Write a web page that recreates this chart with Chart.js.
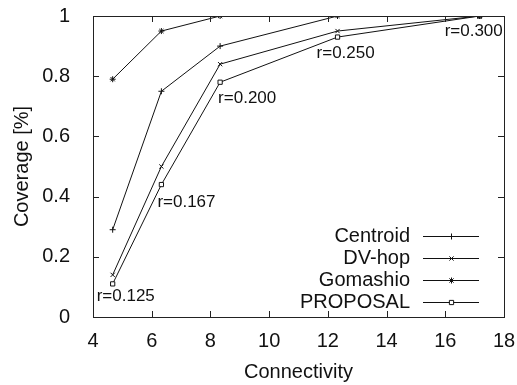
<!DOCTYPE html>
<html>
<head>
<meta charset="utf-8">
<script src="https://cdn.jsdelivr.net/npm/chart.js@4"></script>
<style>
  html, body { margin: 0; padding: 0; background: #fff; }
  #wrap { width: 517px; height: 385px; }
</style>
</head>
<body>
<div id="wrap"><canvas id="coverage"></canvas></div>
<script>
// connectivity for each radio range
const connectivity = [4.67, 6.33, 8.33, 12.33, 17.17];
const rangeLabels = ['r=0.125', 'r=0.167', 'r=0.200', 'r=0.250', 'r=0.300'];

const centroid = [0.29, 0.75, 0.90, 1.00, 1.00];
const dvHop    = [0.14, 0.50, 0.84, 0.95, 1.00];
const gomashio = [0.79, 0.95, 1.00, 1.00, 1.00];
const proposal = [0.11, 0.44, 0.78, 0.93, 1.00];

const xTicks = [4, 6, 8, 10, 12, 14, 16, 18];
const yTicks = [0, 0.2, 0.4, 0.6, 0.8, 1];

const FONT = 'Liberation Sans, Arial, sans-serif';
const INK = '#111';

// where each r= label sits relative to its PROPOSAL point (px)
const labelOffsets = [[-16, 12], [-4, 18], [-2, 16], [-21, 16], [-35, 15]];

const toPoints = ys => ys.map((y, i) => ({ x: connectivity[i], y: y }));

const series = [
    { label: 'Centroid', data: centroid, marker: 'cross' },
    { label: 'DV-hop', data: dvHop, marker: 'crossRot' },
    { label: 'Gomashio', data: gomashio, marker: 'star' },
    { label: 'PROPOSAL', data: proposal, marker: 'rect' }
];

// gnuplot-like frame with inward ticks on every side
const framePlugin = {
    id: 'frame',
    afterDatasetsDraw(chart) {
        const { ctx, chartArea: a, scales } = chart;
        ctx.save();
        ctx.strokeStyle = '#222';
        ctx.lineWidth = 1;
        ctx.strokeRect(Math.round(a.left) + 0.5, Math.round(a.top) + 0.5,
            Math.round(a.right - a.left), Math.round(a.bottom - a.top));
        ctx.beginPath();
        xTicks.forEach(v => {
            const px = Math.round(scales.x.getPixelForValue(v)) + 0.5;
            ctx.moveTo(px, a.bottom); ctx.lineTo(px, a.bottom - 6);
            ctx.moveTo(px, a.top); ctx.lineTo(px, a.top + 6);
        });
        yTicks.forEach(v => {
            const py = Math.round(scales.y.getPixelForValue(v)) + 0.5;
            ctx.moveTo(a.left, py); ctx.lineTo(a.left + 6, py);
            ctx.moveTo(a.right, py); ctx.lineTo(a.right - 6, py);
        });
        ctx.stroke();
        ctx.restore();
    }
};

// r= annotations next to the PROPOSAL points
const rangePlugin = {
    id: 'rangeLabels',
    afterDatasetsDraw(chart) {
        const { ctx, scales } = chart;
        ctx.save();
        ctx.font = '17px ' + FONT;
        ctx.fillStyle = INK;
        ctx.textAlign = 'left';
        ctx.textBaseline = 'middle';
        rangeLabels.forEach((txt, i) => {
            const px = scales.x.getPixelForValue(connectivity[i]);
            const py = scales.y.getPixelForValue(proposal[i]);
            ctx.fillText(txt, px + labelOffsets[i][0], py + labelOffsets[i][1]);
        });
        ctx.restore();
    }
};

// key in the lower right corner: text, then a line sample with the marker
const keyPlugin = {
    id: 'key',
    afterDatasetsDraw(chart) {
        const { ctx, chartArea: a } = chart;
        const textRight = a.right - 94;
        const x0 = a.right - 81, x1 = a.right - 25;
        ctx.save();
        ctx.font = '20px ' + FONT;
        ctx.textAlign = 'right';
        ctx.textBaseline = 'middle';
        series.forEach((s, i) => {
            const y = Math.round(a.bottom - 81 + i * 22) + 0.5;
            ctx.fillStyle = INK;
            ctx.fillText(s.label, textRight, y);
            ctx.strokeStyle = INK;
            ctx.lineWidth = 1;
            ctx.beginPath();
            ctx.moveTo(x0, y); ctx.lineTo(x1, y);
            ctx.stroke();
            ctx.fillStyle = '#fff';
            Chart.helpers.drawPoint(ctx, {
                pointStyle: s.marker, radius: 3, rotation: 0, borderWidth: 1
            }, Math.round((x0 + x1) / 2) + 0.5, y);
        });
        ctx.restore();
    }
};

new Chart(document.getElementById('coverage'), {
    type: 'line',
    data: {
        datasets: series.map(s => ({
            label: s.label,
            data: toPoints(s.data),
            borderColor: INK,
            backgroundColor: 'rgba(0,0,0,0)',
            borderWidth: 1,
            pointStyle: s.marker,
            pointRadius: 3,
            pointBorderWidth: 1,
            pointBorderColor: INK,
            pointBackgroundColor: '#fff',
            tension: 0,
            fill: false
        }))
    },
    options: {
        responsive: true,
        maintainAspectRatio: false,
        animation: false,
        layout: { padding: { top: 16, right: 13, left: 0, bottom: 0 } },
        plugins: {
            legend: { display: false },
            tooltip: { enabled: false }
        },
        scales: {
            x: {
                type: 'linear',
                min: 4,
                max: 18,
                afterFit: s => {
                    s.height = 68;
                    s.paddingLeft = 0;
                    s.paddingRight = 0;
                },
                afterBuildTicks: s => { s.ticks = xTicks.map(v => ({ value: v })); },
                grid: { display: false },
                border: { display: false },
                ticks: { color: INK, font: { family: FONT, size: 20 }, padding: 4, maxRotation: 0 },
                title: { display: true, text: 'Connectivity', color: INK, font: { family: FONT, size: 20 }, padding: { top: 0, bottom: 1 } }
            },
            y: {
                min: 0,
                max: 1,
                afterFit: s => {
                    s.width = 93;
                    s.paddingTop = 0;
                    s.paddingBottom = 0;
                },
                afterBuildTicks: s => { s.ticks = yTicks.map(v => ({ value: v })); },
                grid: { display: false },
                border: { display: false },
                ticks: {
                    color: INK, font: { family: FONT, size: 20 }, padding: 15,
                    callback: v => String(+v.toFixed(1))
                },
                title: { display: true, text: 'Coverage [%]', color: INK, font: { family: FONT, size: 20 }, padding: { top: 10, bottom: 0 } }
            }
        }
    },
    plugins: [framePlugin, rangePlugin, keyPlugin]
});
</script>
</body>
</html>
